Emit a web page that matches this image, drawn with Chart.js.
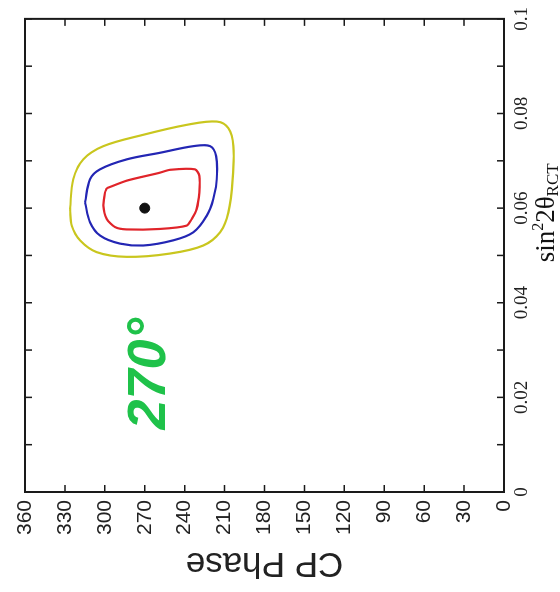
<!DOCTYPE html>
<html>
<head>
<meta charset="utf-8">
<title>CP Phase vs sin²2θRCT</title>
<script src="https://cdn.jsdelivr.net/npm/chart.js@4/dist/chart.umd.min.js"></script>
<style>
  html, body { margin: 0; padding: 0; background: #fff; overflow: hidden; }
  /* the figure is drawn upright and then turned a quarter turn, like the scanned original */
  #wrap {
    position: absolute; left: 0; top: 0;
    width: 592px; height: 560px;
    transform-origin: 0 0;
    transform: translateY(592px) rotate(-90deg);
  }
</style>
</head>
<body>
<div id="wrap"><canvas id="chart"></canvas></div>
<script>
// axis ticks
const phaseTicks = [0, 30, 60, 90, 120, 150, 180, 210, 240, 270, 300, 330, 360];
const sinTicks = [0, 0.02, 0.04, 0.06, 0.08, 0.1];
const sinMinorTicks = [0, 0.01, 0.02, 0.03, 0.04, 0.05, 0.06, 0.07, 0.08, 0.09, 0.1];

// best fit point
const bestSin = [0.06];
const bestPhase = [270];

// inner contour (red)
const redSin   = [0.0642, 0.0658, 0.0675, 0.0681, 0.0682, 0.0668, 0.0633, 0.0598, 0.0577, 0.0563, 0.0556, 0.0555, 0.0560, 0.0577, 0.0605, 0.0633, 0.0642];
const redPhase = [298.6, 283.6, 258.5, 251.0, 232.2, 229.0, 229.0, 231.0, 234.7, 238.5, 258.5, 283.6, 292.4, 298.6, 301.1, 299.9, 298.6];

// middle contour (blue)
const blueSin   = [0.0612, 0.0661, 0.0682, 0.0703, 0.0717, 0.0731, 0.0731, 0.0710, 0.0661, 0.0619, 0.0584, 0.0549, 0.0532, 0.0521, 0.0525, 0.0542, 0.0570, 0.0612];
const bluePhase = [314.9, 311.1, 303.6, 283.6, 258.5, 233.5, 220.9, 216.4, 215.9, 218.5, 223.4, 233.5, 248.5, 271.1, 288.6, 303.6, 311.1, 314.9];

// outer contour (yellow)
const yellowSin   = [0.0598, 0.0661, 0.0703, 0.0731, 0.0755, 0.0776, 0.0783, 0.0769, 0.0731, 0.0661, 0.0591, 0.0549, 0.0521, 0.0504, 0.0497, 0.0507, 0.0532, 0.0563, 0.0598];
const yellowPhase = [326.2, 323.7, 316.2, 301.1, 271.1, 238.5, 215.9, 207.2, 203.4, 203.9, 207.2, 213.4, 226.0, 251.0, 283.6, 306.1, 318.7, 324.9, 326.2];

// the green "270°" written inside the plot
const noteText = '270°';
const noteSin = 0.025;
const notePhase = 266;

function toPoints(xs, ys) {
  return xs.map((v, i) => ({ x: v, y: ys[i] }));
}

const frameTicks = {
  id: 'frameTicks',
  afterDraw(chart) {
    const { ctx, chartArea: a, scales: { x, y } } = chart;
    ctx.save();

    // inward ticks on all four sides
    ctx.strokeStyle = '#1a1a1a';
    ctx.lineWidth = 1.5;
    ctx.beginPath();
    sinMinorTicks.forEach(v => {
      const px = x.getPixelForValue(v);
      ctx.moveTo(px, a.bottom); ctx.lineTo(px, a.bottom - 7);
      ctx.moveTo(px, a.top); ctx.lineTo(px, a.top + 7);
    });
    phaseTicks.forEach(v => {
      const py = y.getPixelForValue(v);
      ctx.moveTo(a.left, py); ctx.lineTo(a.left + 7, py);
      ctx.moveTo(a.right, py); ctx.lineTo(a.right - 7, py);
    });
    ctx.stroke();

    // frame
    ctx.lineWidth = 2;
    ctx.strokeRect(a.left, a.top, a.right - a.left, a.bottom - a.top);

    // x axis title: sin²2θ with RCT subscript
    const parts = [
      { t: 'sin', f: '27px "Liberation Serif"', dy: 0 },
      { t: '2', f: '16px "Liberation Serif"', dy: -11 },
      { t: '2θ', f: '27px "Liberation Serif"', dy: 0 },
      { t: 'RCT', f: '17px "Liberation Serif"', dy: 4 }
    ];
    let total = 0;
    parts.forEach(p => { ctx.font = p.f; p.w = ctx.measureText(p.t).width; total += p.w; });
    let tx = a.left + 0.59 * (a.right - a.left) - total / 2;
    const ty = 554;
    ctx.fillStyle = '#111';
    ctx.textBaseline = 'alphabetic';
    ctx.textAlign = 'left';
    parts.forEach(p => { ctx.font = p.f; ctx.fillText(p.t, tx, ty + p.dy); tx += p.w; });

    // green note
    ctx.font = 'bold italic 54px "Liberation Sans"';
    ctx.fillStyle = '#1fc24a';
    ctx.textAlign = 'center';
    ctx.textBaseline = 'middle';
    ctx.fillText(noteText, x.getPixelForValue(noteSin), y.getPixelForValue(notePhase));

    ctx.restore();
  }
};

new Chart(document.getElementById('chart'), {
  type: 'scatter',
  data: {
    datasets: [
      { data: toPoints(yellowSin, yellowPhase), showLine: true, borderColor: '#c9c61e', borderWidth: 2.2, pointRadius: 0, tension: 0.35, fill: false },
      { data: toPoints(blueSin, bluePhase), showLine: true, borderColor: '#2326b4', borderWidth: 2.2, pointRadius: 0, tension: 0.35, fill: false },
      { data: toPoints(redSin, redPhase), showLine: true, borderColor: '#e0242a', borderWidth: 2.2, pointRadius: 0, tension: 0.25, fill: false },
      { data: toPoints(bestSin, bestPhase), pointRadius: 5, pointBackgroundColor: '#111', pointBorderColor: '#111' }
    ]
  },
  options: {
    responsive: true,
    maintainAspectRatio: false,
    animation: false,
    layout: { padding: { left: 0, right: 15, top: 25, bottom: 0 } },
    plugins: { legend: { display: false }, tooltip: { enabled: false } },
    scales: {
      x: {
        type: 'linear', min: 0, max: 0.1,
        grid: { display: false, drawTicks: false },
        border: { display: false },
        afterBuildTicks: s => { s.ticks = sinTicks.map(v => ({ value: v })); },
        afterFit: s => { s.height = 56; },
        ticks: {
          padding: 7,
          color: '#222',
          font: { family: '"Liberation Serif"', size: 19 },
          callback: v => String(+v.toFixed(2))
        }
      },
      y: {
        type: 'linear', min: 0, max: 360,
        grid: { display: false, drawTicks: false },
        border: { display: false },
        afterBuildTicks: s => { s.ticks = phaseTicks.map(v => ({ value: v })); },
        afterFit: s => { s.width = 100; },
        ticks: {
          padding: 8,
          color: '#222',
          font: { family: '"Liberation Sans"', size: 21 }
        },
        title: {
          display: true,
          text: 'CP Phase',
          color: '#222',
          font: { family: '"Liberation Sans"', size: 35 },
          padding: { top: 8, bottom: 0 }
        }
      }
    }
  },
  plugins: [frameTicks]
});
</script>
</body>
</html>
